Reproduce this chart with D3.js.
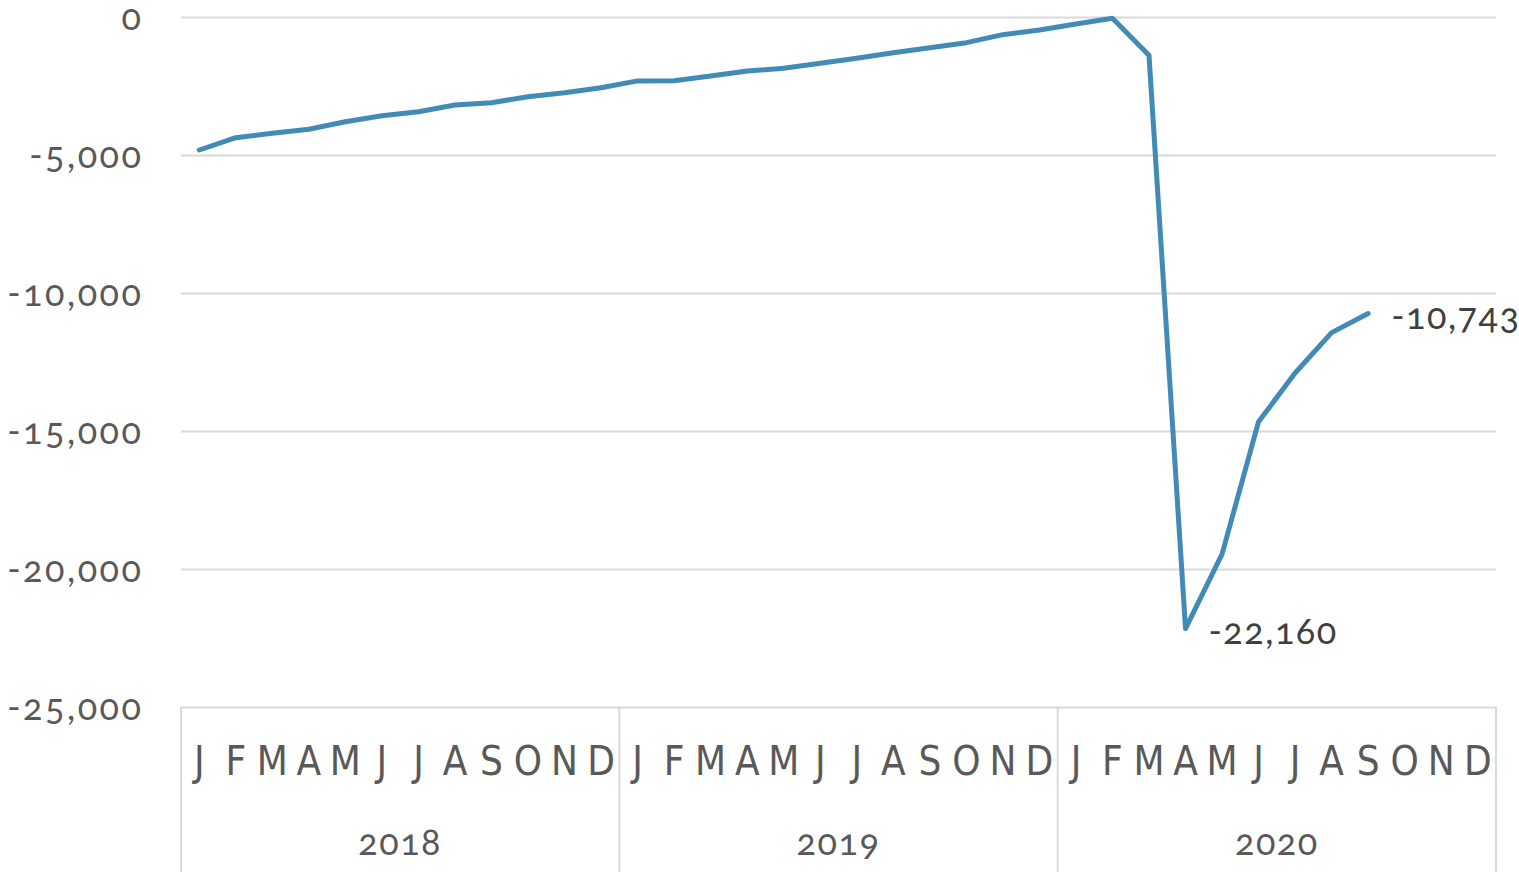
<html>
    <head>
        <meta charset="utf-8">
        <script src="https://d3js.org/d3.v7.min.js"></script>
        <title>Monthly change</title>
    </head>
    <style>
        body { margin: 0; background: #fff; }
        .gridlines line { stroke: #d9d9d9; stroke-width: 2; }
        .gridlines .domain { stroke: none; }
        .num { font-family: Lato, "Open Sans", sans-serif; font-variant-numeric: oldstyle-nums; }
    </style>
    <body>
        <svg id="svg1"></svg>
        <script>
            // data
            const years = ["2018", "2019", "2020"];
            const months = ["J", "F", "M", "A", "M", "J", "J", "A", "S", "O", "N", "D"];
            const values2018 = [-4819, -4373, -4214, -4069, -3793, -3575, -3430, -3188, -3104, -2887, -2742, -2561];
            const values2019 = [-2315, -2310, -2140, -1957, -1860, -1679, -1498, -1293, -1111, -930, -640, -471];
            const values2020 = [-254, -48, -1384, -22160, -19460, -14663, -12899, -11435, -10743];
            const labelled = [[2020, 3, "-22,160"], [2020, 8, "-10,743"]];
            const yTicks = [0, -5000, -10000, -15000, -20000, -25000];

            const width = 1519;
            const height = 872;
            const margins = {top: 17, right: 23, bottom: 165, left: 181};
            const chartWidth = width - margins.left - margins.right;
            const chartHeight = height - margins.top - margins.bottom;

            let svg1 = d3.select("svg#svg1")
                         .attr("width", width)
                         .attr("height", height);

            // flatten series to one point per month
            let points = [];
            [values2018, values2019, values2020].forEach((vals, yi) => {
                vals.forEach((v, mi) => points.push({year: years[yi], month: mi, key: years[yi] + "-" + mi, value: v}));
            });
            let allKeys = [];
            years.forEach(y => months.forEach((m, mi) => allKeys.push(y + "-" + mi)));

            const scaleX = d3.scaleBand()
                             .domain(allKeys)
                             .range([margins.left, margins.left + chartWidth]);
            const scaleYears = d3.scaleBand()
                                 .domain(years)
                                 .range([margins.left, margins.left + chartWidth]);
            const scaleValues = d3.scaleLinear()
                                  .domain([-25000, 0])
                                  .range([margins.top + chartHeight, margins.top]);

            const fmt = v => d3.format(",")(v).replace("\u2212", "-");

            // gridlines
            svg1.append("g")
                .attr("class", "gridlines")
                .attr("transform", `translate(${margins.left}, 0)`)
                .call(d3.axisLeft(scaleValues).tickValues(yTicks).tickSize(-chartWidth).tickFormat(""));

            // y labels
            let leftAxis = svg1.append("g")
                               .attr("transform", `translate(${margins.left}, 0)`)
                               .call(d3.axisLeft(scaleValues).tickValues(yTicks).tickSize(0).tickPadding(37.5).tickFormat(fmt));
            leftAxis.select(".domain").remove();
            leftAxis.selectAll("text")
                    .attr("class", "num")
                    .attr("dy", 12)
                    .style("font-size", "36px")
                    .style("letter-spacing", "2.5px")
                    .style("fill", "#595959");

            // category axis: separators
            let bottom = margins.top + chartHeight;
            let sepX = years.map(y => scaleYears(y)).concat([margins.left + chartWidth]);
            svg1.selectAll("line.sep")
                .data(sepX)
                .join("line")
                .attr("class", "sep")
                .attr("x1", d => d).attr("x2", d => d)
                .attr("y1", bottom).attr("y2", height)
                .attr("stroke", "#d9d9d9")
                .attr("stroke-width", 2);

            // month letters
            svg1.selectAll("text.month")
                .data(allKeys)
                .join("text")
                .attr("class", "month")
                .attr("x", d => scaleX(d) + scaleX.bandwidth() / 2)
                .attr("y", 775)
                .attr("text-anchor", "middle")
                .style("font-family", "'Liberation Sans Narrow', 'DejaVu Sans Condensed', sans-serif")
                .style("font-size", "40px")
                .style("fill", "#595959")
                .text(d => months[+d.split("-")[1]]);

            // year labels
            svg1.selectAll("text.year")
                .data(years)
                .join("text")
                .attr("class", "year num")
                .attr("x", d => scaleYears(d) + scaleYears.bandwidth() / 2)
                .attr("y", 855)
                .attr("text-anchor", "middle")
                .style("font-size", "36px")
                .style("letter-spacing", "1.5px")
                .style("fill", "#595959")
                .text(d => d);

            // line
            let lineGen = d3.line()
                            .x(d => scaleX(d.key) + scaleX.bandwidth() / 2)
                            .y(d => scaleValues(d.value));
            svg1.append("path")
                .datum(points)
                .attr("fill", "none")
                .attr("stroke", "#418bb6")
                .attr("stroke-width", 5)
                .attr("stroke-linejoin", "round")
                .attr("stroke-linecap", "round")
                .attr("d", lineGen);

            // data labels
            svg1.selectAll("text.dlabel")
                .data(labelled)
                .join("text")
                .attr("class", "dlabel num")
                .attr("x", d => scaleX(d[0] + "-" + d[1]) + scaleX.bandwidth() / 2 + 23)
                .attr("y", d => scaleValues(points.find(p => p.key == d[0] + "-" + d[1]).value) + 15)
                .style("font-size", "36px")
                .style("letter-spacing", "1.5px")
                .style("fill", "#404040")
                .text(d => d[2]);
        </script>
    </body>
</html>
